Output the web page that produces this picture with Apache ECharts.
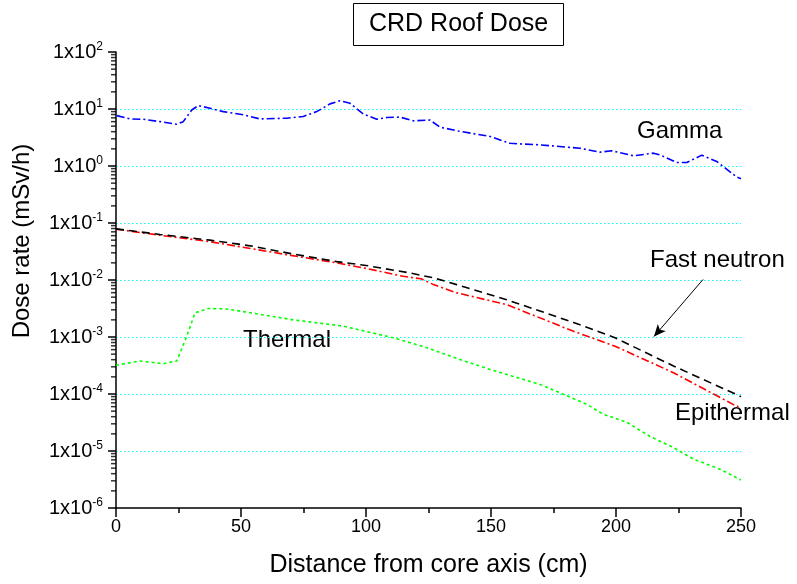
<!DOCTYPE html>
<html>
<head>
<meta charset="utf-8">
<script src="https://cdn.jsdelivr.net/npm/echarts@6/dist/echarts.min.js"></script>
<style>html,body{margin:0;padding:0;background:#fff}#c{width:797px;height:584px}</style>
</head>
<body>
<div id="c"></div>
<script>
// ---- Data ----
var gammaX = [0.3, 5.6, 10.9, 17.6, 24.3, 26.9, 30.3, 32.9, 37.6, 42.9, 50.9, 57.6, 68.3, 74.9, 80.3, 85.6, 89.6, 93.6, 98.9, 104.3, 108.3, 113.6, 118.9, 125.6, 129.6, 136.9, 149.6, 157.6, 169.6, 185.6, 193.6, 198.3, 207, 215, 217.6, 224.3, 228.3, 234.3, 240.3, 248.3, 250];
var gammaY = [7.66, 6.7, 6.6, 6.0, 5.4, 6.0, 9.6, 11.5, 10.3, 9.0, 7.9, 6.7, 6.9, 7.4, 9.0, 12.3, 14.0, 12.6, 8.2, 6.6, 7.1, 7.2, 6.2, 6.4, 4.8, 4.1, 3.3, 2.5, 2.35, 2.05, 1.75, 1.85, 1.51, 1.68, 1.57, 1.15, 1.15, 1.55, 1.2, 0.64, 0.6];

var fastX = [0, 17.6, 37.6, 48.3, 54.9, 70, 88.3, 100, 117.6, 127, 136.3, 156.3, 183, 199.6, 223, 250];
var fastY = [0.079, 0.063, 0.05, 0.043, 0.039, 0.029, 0.021, 0.018, 0.0133, 0.0109, 0.0083, 0.0045, 0.0018, 0.00097, 0.00031, 0.00009];

var epiX = [0, 17.6, 37.6, 54.9, 70, 88.3, 100, 114.9, 122, 127, 136, 156.3, 183, 199.6, 223, 247, 249];
var epiY = [0.078, 0.061, 0.047, 0.035, 0.027, 0.020, 0.016, 0.0116, 0.0105, 0.0083, 0.006, 0.0037, 0.00126, 0.00069, 0.000236, 0.000065, 0.00006];

var thermX = [0, 9.6, 18.9, 24.3, 28.3, 31.6, 36.9, 44.3, 57.6, 70.9, 90.9, 110.9, 124.3, 137, 149.6, 169.6, 177.6, 188.3, 195, 204.3, 213.6, 223, 231, 241.6, 250];
var thermY = [3.2e-4, 3.8e-4, 3.4e-4, 3.8e-4, 1.03e-3, 2.65e-3, 3.16e-3, 3.1e-3, 2.5e-3, 2.0e-3, 1.55e-3, 9.7e-4, 6.5e-4, 4.1e-4, 2.7e-4, 1.47e-4, 1.05e-4, 6.6e-5, 4.4e-5, 3.2e-5, 1.8e-5, 1.15e-5, 7.2e-6, 4.8e-6, 3.1e-6];

var xTicks = [0, 50, 100, 150, 200, 250];
var yExponents = [2, 1, 0, -1, -2, -3, -4, -5, -6];

var arrowFrom = [234.8, 0.0102];
var arrowTo = [215.2, 0.00102];

function pairs(xs, ys) { return xs.map(function (x, i) { return [x, ys[i]]; }); }

// minor tick positions for the log axis (2..9 x 10^k)
var minorTicks = [];
for (var k = -6; k < 2; k++) {
  for (var m = 2; m <= 9; m++) minorTicks.push([0, m * Math.pow(10, k)]);
}

var FONT = 'Liberation Sans, Arial, sans-serif';
var chart = echarts.init(document.getElementById('c'), null, { renderer: 'canvas' });

chart.setOption({
  animation: false,
  backgroundColor: '#ffffff',
  title: {
    text: 'CRD Roof Dose',
    left: 353, top: 3,
    padding: [9, 16, 9, 16],
    borderColor: '#000', borderWidth: 1,
    textStyle: { fontFamily: FONT, fontSize: 25, fontWeight: 'normal', color: '#000' }
  },
  grid: { left: 116, right: 56, top: 52, bottom: 76, containLabel: false },
  xAxis: {
    type: 'value', min: 0, max: 250, interval: 50,
    name: 'Distance from core axis (cm)', nameLocation: 'middle', nameGap: 45,
    nameTextStyle: { fontFamily: FONT, fontSize: 25, color: '#000' },
    axisLine: { onZero: false, lineStyle: { color: '#000', width: 1.5 } },
    axisTick: { show: true, inside: false, length: 9, lineStyle: { color: '#000', width: 1.5 } },
    minorTick: { show: true, splitNumber: 2, length: 5, lineStyle: { color: '#000', width: 1.5 } },
    axisLabel: { fontFamily: FONT, fontSize: 18, color: '#000', margin: 10,
      formatter: function (v) { return xTicks.indexOf(v) >= 0 ? String(v) : ''; } },
    splitLine: { show: false }
  },
  yAxis: {
    type: 'log', logBase: 10, min: 1e-6, max: 1e2,
    name: 'Dose rate (mSv/h)', nameLocation: 'middle', nameGap: 82, nameRotate: 90,
    nameTextStyle: { fontFamily: FONT, fontSize: 24, color: '#000', padding: [0, 0, 0, 78] },
    axisLine: { show: true, onZero: false, lineStyle: { color: '#000', width: 1.5 } },
    axisTick: { show: true, inside: false, length: 8, lineStyle: { color: '#000', width: 1.5 } },
    axisLabel: {
      margin: 13,
      formatter: function (v) {
        var e = Math.round(Math.log10(v));
        if (yExponents.indexOf(e) < 0) return '';
        return '{b|1x10}{s|' + e + '}';
      },
      rich: {
        b: { fontFamily: FONT, fontSize: 20, color: '#000' },
        s: { fontFamily: FONT, fontSize: 12, color: '#000', padding: [0, 0, 11, 0] }
      }
    },
    splitLine: { show: true, showMinLine: false, showMaxLine: false,
      lineStyle: { color: '#00ffff', type: [1.5, 2.5], width: 1 } }
  },
  series: [
    {
      name: 'Minor ticks', type: 'scatter', silent: true, clip: false,
      data: minorTicks, symbol: 'rect', symbolSize: [5, 1.5], symbolOffset: [-2.5, 0],
      itemStyle: { color: '#000' }, z: 5
    },
    {
      name: 'Gamma', type: 'line', data: pairs(gammaX, gammaY), showSymbol: false,
      lineStyle: { color: '#0000ff', width: 1.6, type: [8, 3, 2, 3] }, z: 3
    },
    {
      name: 'Epithermal', type: 'line', data: pairs(epiX, epiY), showSymbol: false,
      lineStyle: { color: '#ff0000', width: 1.6, type: [8, 3, 2, 3] }, z: 3
    },
    {
      name: 'Fast neutron', type: 'line', data: pairs(fastX, fastY), showSymbol: false,
      lineStyle: { color: '#000000', width: 1.6, type: [8, 5] }, z: 4,
      markLine: {
        silent: true, symbol: ['none', 'arrow'], symbolSize: [8, 12],
        lineStyle: { color: '#000', width: 1, type: 'solid' }, label: { show: false },
        data: [[{ coord: arrowFrom }, { coord: arrowTo }]]
      }
    },
    {
      name: 'Thermal', type: 'line', data: pairs(thermX, thermY), showSymbol: false,
      lineStyle: { color: '#00ff00', width: 1.6, type: [3, 3] }, z: 3
    }
  ],
  graphic: [
    { type: 'text', left: 637, top: 119, style: { text: 'Gamma', font: '24px ' + FONT, fill: '#000' } },
    { type: 'text', left: 243, top: 328, style: { text: 'Thermal', font: '24px ' + FONT, fill: '#000' } },
    { type: 'text', left: 650, top: 248, style: { text: 'Fast neutron', font: '24px ' + FONT, fill: '#000' } },
    { type: 'text', left: 675, top: 401, style: { text: 'Epithermal', font: '24px ' + FONT, fill: '#000' } }
  ]
});
</script>
</body>
</html>
